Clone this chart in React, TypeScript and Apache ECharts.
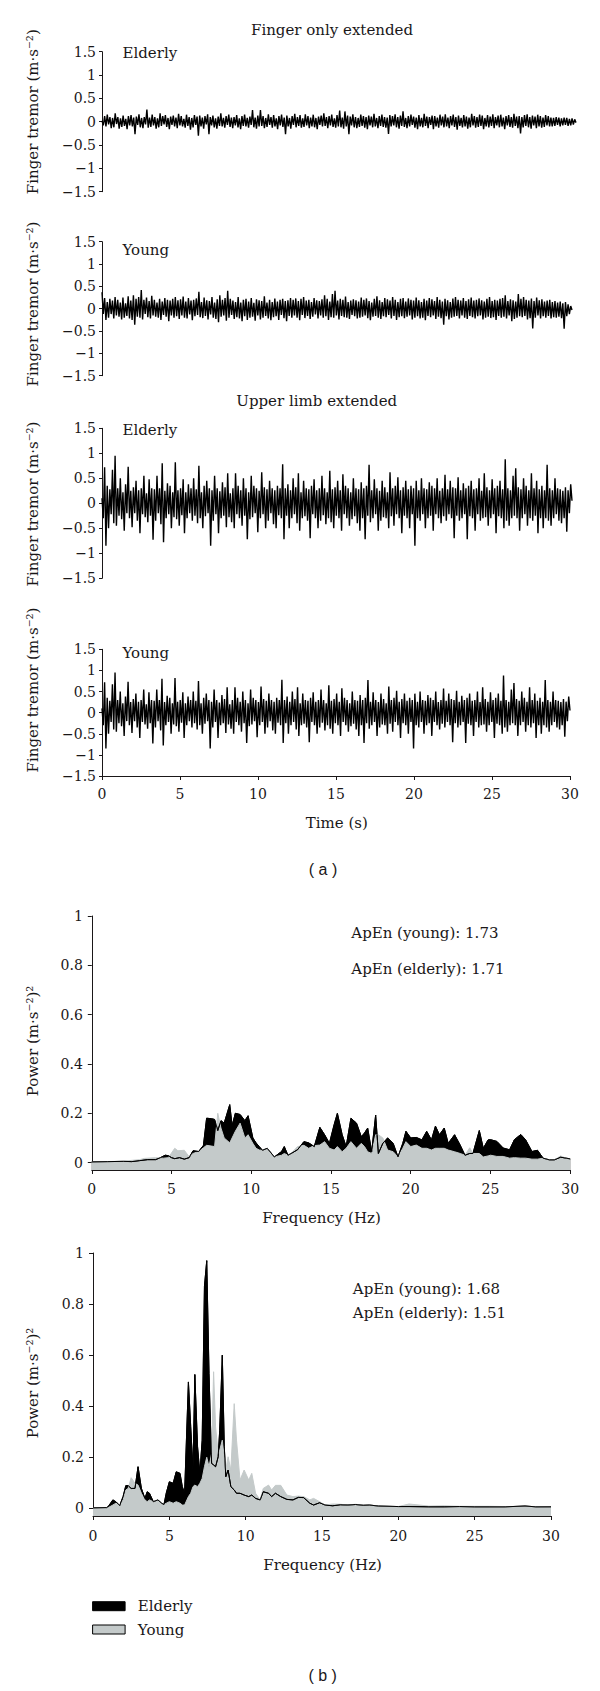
import React, { useEffect, useRef } from "react";
import * as echarts from "echarts";

// ---------- (a) tremor traces, 360 samples over 0–30 s ----------
const fingerElderly = [
  0.02, -0.08, 0.12, -0.1, 0.15, -0.06, 0.1, -0.14, 0.08, -0.12, 0.18, -0.05, 0.1, -0.15, 0.07, -0.11, 0.13, -0.09, 0.06, -0.16,
  0.12, -0.08, 0.14, -0.1, 0.09, -0.27, 0.11, -0.07, 0.16, -0.12, 0.08, -0.14, 0.1, -0.06, 0.26, -0.13, 0.09, -0.11, 0.15, -0.08,
  0.1, -0.15, 0.07, -0.12, 0.18, -0.09, 0.12, -0.06, 0.14, -0.11, 0.08, -0.16, 0.11, -0.07, 0.13, -0.1, 0.09, -0.14, 0.17, -0.08,
  0.12, -0.1, 0.06, -0.13, 0.15, -0.09, 0.1, -0.17, 0.08, -0.12, 0.14, -0.07, 0.11, -0.3, 0.13, -0.1, 0.09, -0.15, 0.12, -0.06,
  0.16, -0.27, 0.1, -0.08, 0.13, -0.12, 0.07, -0.15, 0.11, -0.09, 0.18, -0.1, 0.08, -0.13, 0.12, -0.07, 0.15, -0.11, 0.09, -0.14,
  0.1, -0.08, 0.14, -0.12, 0.07, -0.16, 0.12, -0.09, 0.15, -0.1, 0.08, -0.13, 0.11, -0.07, 0.25, -0.12, 0.09, -0.15, 0.13, -0.1,
  0.25, -0.09, 0.12, -0.14, 0.08, -0.11, 0.16, -0.07, 0.1, -0.13, 0.14, -0.1, 0.07, -0.16, 0.12, -0.08, 0.15, -0.11, 0.09, -0.27,
  0.13, -0.1, 0.08, -0.15, 0.12, -0.07, 0.17, -0.12, 0.1, -0.09, 0.14, -0.13, 0.07, -0.11, 0.16, -0.08, 0.12, -0.14, 0.09, -0.1,
  0.15, -0.12, 0.08, -0.16, 0.11, -0.07, 0.13, -0.1, 0.18, -0.09, 0.1, -0.14, 0.12, -0.08, 0.15, -0.11, 0.07, -0.13, 0.14, -0.1,
  0.24, -0.12, 0.09, -0.15, 0.22, -0.1, 0.13, -0.27, 0.11, -0.08, 0.16, -0.12, 0.1, -0.14, 0.08, -0.11, 0.15, -0.09, 0.12, -0.13,
  0.1, -0.16, 0.13, -0.08, 0.11, -0.12, 0.17, -0.1, 0.08, -0.14, 0.12, -0.09, 0.15, -0.11, 0.1, -0.13, 0.09, -0.26, 0.14, -0.1,
  0.12, -0.08, 0.16, -0.12, 0.1, -0.15, 0.13, -0.09, 0.22, -0.11, 0.08, -0.14, 0.12, -0.1, 0.15, -0.07, 0.11, -0.13, 0.09, -0.16,
  0.14, -0.1, 0.08, -0.12, 0.17, -0.09, 0.11, -0.14, 0.1, -0.07, 0.13, -0.16, 0.12, -0.1, 0.09, -0.13, 0.15, -0.08, 0.11, -0.12,
  0.16, -0.1, 0.09, -0.14, 0.12, -0.08, 0.15, -0.11, 0.1, -0.17, 0.13, -0.09, 0.08, -0.12, 0.14, -0.1, 0.11, -0.15, 0.09, -0.12,
  0.17, -0.08, 0.12, -0.13, 0.1, -0.11, 0.15, -0.09, 0.13, -0.16, 0.08, -0.1, 0.14, -0.12, 0.11, -0.09, 0.16, -0.14, 0.1, -0.08,
  0.13, -0.12, 0.15, -0.1, 0.09, -0.16, 0.12, -0.08, 0.14, -0.11, 0.1, -0.13, 0.17, -0.09, 0.11, -0.14, 0.12, -0.25, 0.1, -0.12,
  0.14, -0.09, 0.16, -0.12, 0.1, -0.15, 0.13, -0.08, 0.11, -0.14, 0.15, -0.1, 0.12, -0.13, 0.09, -0.11, 0.14, -0.08, 0.12, -0.1,
  0.09, -0.1, 0.08, -0.09, 0.1, -0.07, 0.09, -0.1, 0.07, -0.08, 0.09, -0.07, 0.08, -0.09, 0.06, -0.08, 0.07, -0.06, 0.05, -0.02,
];

const fingerYoung = [
  0.37, -0.12, 0.24, -0.25, 0.15, -0.2, 0.22, -0.12, 0.18, -0.22, 0.26, -0.15, 0.2, -0.18, 0.14, -0.24, 0.25, -0.2, 0.12, -0.16,
  0.28, -0.22, 0.18, -0.25, 0.3, -0.36, 0.22, -0.18, 0.26, -0.2, 0.42, -0.24, 0.2, -0.12, 0.25, -0.19, 0.17, -0.22, 0.29, -0.15,
  0.2, -0.18, 0.14, -0.2, 0.22, -0.25, 0.16, -0.14, 0.24, -0.18, 0.2, -0.28, 0.18, -0.15, 0.22, -0.2, 0.26, -0.17, 0.19, -0.23,
  0.21, -0.15, 0.27, -0.2, 0.16, -0.22, 0.24, -0.13, 0.18, -0.26, 0.2, -0.17, 0.23, -0.14, 0.38, -0.19, 0.15, -0.21, 0.25, -0.16,
  0.19, -0.24, 0.17, -0.13, 0.26, -0.2, 0.14, -0.23, 0.21, -0.3, 0.3, -0.18, 0.2, -0.15, 0.24, -0.27, 0.4, -0.2, 0.22, -0.14,
  0.18, -0.23, 0.15, -0.19, 0.26, -0.22, 0.14, -0.28, 0.2, -0.17, 0.22, -0.25, 0.16, -0.2, 0.24, -0.18, 0.13, -0.27, 0.21, -0.15,
  0.19, -0.24, 0.17, -0.2, 0.28, -0.16, 0.14, -0.22, 0.2, -0.26, 0.15, -0.19, 0.23, -0.17, 0.16, -0.25, 0.2, -0.14, 0.22, -0.21,
  0.17, -0.28, 0.19, -0.16, 0.24, -0.2, 0.2, -0.15, 0.23, -0.2, 0.17, -0.26, 0.22, -0.14, 0.26, -0.21, 0.18, -0.16, 0.2, -0.23,
  0.15, -0.18, 0.24, -0.13, 0.19, -0.22, 0.17, -0.15, 0.21, -0.2, 0.3, -0.17, 0.22, -0.25, 0.16, -0.19, 0.33, -0.2, 0.4, -0.15,
  0.18, -0.24, 0.22, -0.16, 0.2, -0.19, 0.27, -0.2, 0.15, -0.23, 0.18, -0.14, 0.21, -0.17, 0.19, -0.22, 0.16, -0.2, 0.25, -0.18,
  0.2, -0.15, 0.23, -0.21, 0.17, -0.26, 0.14, -0.18, 0.22, -0.16, 0.28, -0.2, 0.19, -0.23, 0.15, -0.17, 0.24, -0.19, 0.21, -0.14,
  0.18, -0.22, 0.26, -0.16, 0.2, -0.25, 0.15, -0.19, 0.22, -0.17, 0.24, -0.21, 0.16, -0.18, 0.23, -0.15, 0.2, -0.24, 0.18, -0.2,
  0.25, -0.17, 0.19, -0.22, 0.15, -0.2, 0.22, -0.26, 0.18, -0.16, 0.24, -0.19, 0.21, -0.15, 0.17, -0.23, 0.26, -0.18, 0.2, -0.21,
  0.16, -0.36, 0.22, -0.17, 0.19, -0.24, 0.15, -0.2, 0.23, -0.18, 0.26, -0.16, 0.2, -0.22, 0.18, -0.15, 0.24, -0.2, 0.17, -0.23,
  0.21, -0.16, 0.25, -0.19, 0.18, -0.22, 0.2, -0.17, 0.23, -0.15, 0.19, -0.24, 0.16, -0.2, 0.22, -0.18, 0.26, -0.21, 0.17, -0.19,
  0.2, -0.25, 0.18, -0.16, 0.22, -0.2, 0.24, -0.18, 0.3, -0.22, 0.17, -0.15, 0.21, -0.28, 0.19, -0.23, 0.16, -0.2, 0.33, -0.17,
  0.22, -0.19, 0.26, -0.16, 0.2, -0.24, 0.18, -0.21, 0.23, -0.44, 0.17, -0.2, 0.25, -0.15, 0.19, -0.22, 0.21, -0.17, 0.16, -0.2,
  0.18, -0.16, 0.2, -0.22, 0.15, -0.19, 0.17, -0.2, 0.14, -0.18, 0.16, -0.21, 0.12, -0.45, 0.15, -0.17, 0.1, -0.12, 0.06, -0.03,
];

const upperElderly = [
  0.1, -0.3, 0.72, -0.85, 0.35, -0.5, 0.28, -0.22, 0.67, -0.4, 0.95, -0.45, 0.3, -0.25, 0.5, -0.32, 0.22, -0.55, 0.38, -0.2,
  0.73, -0.3, 0.25, -0.48, 0.32, -0.2, 0.45, -0.35, 0.26, -0.6, 0.3, -0.22, 0.55, -0.28, 0.2, -0.38, 0.48, -0.25, 0.3, -0.73,
  0.28, -0.35, 0.55, -0.2, 0.3, -0.42, 0.8, -0.78, 0.25, -0.3, 0.4, -0.22, 0.35, -0.5, 0.22, -0.28, 0.82, -0.32, 0.26, -0.45,
  0.3, -0.24, 0.48, -0.6, 0.22, -0.3, 0.38, -0.2, 0.3, -0.35, 0.5, -0.25, 0.28, -0.4, 0.75, -0.3, 0.22, -0.5, 0.35, -0.26,
  0.45, -0.2, 0.3, -0.85, 0.26, -0.35, 0.55, -0.22, 0.3, -0.6, 0.24, -0.3, 0.42, -0.25, 0.32, -0.48, 0.6, -0.28, 0.2, -0.38,
  0.3, -0.5, 0.6, -0.22, 0.35, -0.3, 0.26, -0.45, 0.5, -0.25, 0.3, -0.72, 0.22, -0.32, 0.55, -0.28, 0.35, -0.2, 0.3, -0.58,
  0.25, -0.3, 0.62, -0.22, 0.32, -0.5, 0.28, -0.35, 0.45, -0.2, 0.3, -0.42, 0.26, -0.5, 0.35, -0.24, 0.3, -0.3, 0.78, -0.72,
  0.3, -0.25, 0.38, -0.5, 0.26, -0.3, 0.5, -0.22, 0.32, -0.4, 0.6, -0.55, 0.22, -0.3, 0.45, -0.26, 0.3, -0.35, 0.28, -0.7,
  0.35, -0.22, 0.48, -0.3, 0.26, -0.5, 0.3, -0.35, 0.55, -0.24, 0.3, -0.42, 0.22, -0.3, 0.65, -0.38, 0.28, -0.5, 0.32, -0.25,
  0.45, -0.3, 0.26, -0.55, 0.58, -0.22, 0.35, -0.3, 0.3, -0.45, 0.22, -0.32, 0.5, -0.26, 0.3, -0.4, 0.28, -0.55, 0.42, -0.3,
  0.3, -0.72, 0.35, -0.25, 0.77, -0.38, 0.26, -0.3, 0.48, -0.22, 0.3, -0.55, 0.25, -0.35, 0.45, -0.28, 0.32, -0.3, 0.22, -0.5,
  0.62, -0.26, 0.3, -0.45, 0.35, -0.22, 0.52, -0.3, 0.26, -0.6, 0.32, -0.25, 0.45, -0.3, 0.28, -0.5, 0.35, -0.22, 0.3, -0.85,
  0.45, -0.3, 0.26, -0.35, 0.5, -0.22, 0.3, -0.5, 0.28, -0.3, 0.42, -0.25, 0.35, -0.55, 0.3, -0.22, 0.5, -0.3, 0.25, -0.4,
  0.3, -0.26, 0.57, -0.35, 0.28, -0.22, 0.45, -0.3, 0.32, -0.7, 0.3, -0.25, 0.52, -0.35, 0.26, -0.3, 0.4, -0.22, 0.3, -0.72,
  0.35, -0.26, 0.45, -0.3, 0.28, -0.55, 0.3, -0.22, 0.5, -0.35, 0.25, -0.3, 0.6, -0.28, 0.32, -0.45, 0.26, -0.3, 0.48, -0.22,
  0.3, -0.6, 0.35, -0.26, 0.45, -0.3, 0.28, -0.5, 0.88, -0.35, 0.3, -0.45, 0.26, -0.3, 0.55, -0.25, 0.7, -0.3, 0.32, -0.55,
  0.28, -0.3, 0.5, -0.22, 0.35, -0.45, 0.26, -0.3, 0.6, -0.35, 0.3, -0.25, 0.45, -0.6, 0.28, -0.3, 0.35, -0.5, 0.26, -0.3,
  0.77, -0.35, 0.3, -0.45, 0.26, -0.3, 0.5, -0.22, 0.3, -0.35, 0.28, -0.4, 0.25, -0.3, 0.32, -0.57, 0.26, -0.2, 0.38, 0.05,
];

// the reference prints the very same trace for the "Young" upper-limb panel
const upperYoung = upperElderly.slice();

// ---------- (b) power spectra, [frequency Hz, power] ----------
const specTopElderly = [
  [0, 0.003], [1, 0.004], [2, 0.005], [2.5, 0.004], [3, 0.008], [3.5, 0.012], [4, 0.012], [4.3, 0.02], [4.6, 0.03], [4.8, 0.028],
  [5, 0.02], [5.2, 0.016], [5.5, 0.02], [5.8, 0.014], [6.1, 0.02], [6.35, 0.048], [6.7, 0.045], [7, 0.07], [7.2, 0.18], [7.5, 0.178],
  [7.7, 0.175], [7.9, 0.13], [8.1, 0.17], [8.3, 0.16], [8.65, 0.235], [8.8, 0.15], [9.0, 0.2], [9.3, 0.195], [9.6, 0.17], [9.8, 0.19],
  [10.1, 0.1], [10.3, 0.08], [10.5, 0.065], [10.7, 0.05], [11.0, 0.058], [11.45, 0.023], [11.9, 0.045], [12.07, 0.065], [12.3, 0.03], [12.5, 0.037],
  [12.9, 0.052], [13.3, 0.085], [13.6, 0.08], [13.95, 0.065], [14.3, 0.143], [14.6, 0.113], [14.9, 0.078], [15.2, 0.155], [15.4, 0.2], [15.7, 0.113],
  [15.95, 0.065], [16.25, 0.18], [16.6, 0.16], [16.9, 0.105], [17.1, 0.12], [17.3, 0.14], [17.55, 0.044], [17.8, 0.193], [17.97, 0.037], [18.25, 0.078],
  [18.55, 0.1], [18.9, 0.078], [19.2, 0.023], [19.5, 0.078], [19.7, 0.127], [20.0, 0.1], [20.35, 0.102], [20.7, 0.092], [21.0, 0.127], [21.3, 0.092],
  [21.55, 0.148], [21.8, 0.113], [22.1, 0.14], [22.35, 0.078], [22.75, 0.113], [23.1, 0.071], [23.4, 0.03], [23.7, 0.037], [23.9, 0.037], [24.3, 0.13],
  [24.55, 0.058], [24.85, 0.092], [25.0, 0.093], [25.4, 0.086], [25.8, 0.059], [26.2, 0.052], [26.5, 0.093], [26.9, 0.114], [27.2, 0.093], [27.6, 0.045],
  [27.95, 0.05], [28.3, 0.018], [28.7, 0.011], [29.0, 0.011], [29.4, 0.022], [29.75, 0.018], [30, 0.015],
];

const specTopYoung = [
  [0, 0.003], [1, 0.004], [2, 0.006], [3, 0.012], [3.3, 0.017], [4, 0.02], [4.5, 0.018], [4.8, 0.02], [5.2, 0.058], [5.4, 0.048],
  [5.8, 0.05], [6.1, 0.024], [6.35, 0.037], [6.7, 0.045], [7.0, 0.06], [7.2, 0.07], [7.7, 0.065], [7.9, 0.2], [8.1, 0.14], [8.3, 0.1],
  [8.65, 0.08], [9.0, 0.127], [9.3, 0.16], [9.6, 0.1], [9.8, 0.113], [10.1, 0.078], [10.3, 0.058], [10.5, 0.051], [10.7, 0.05], [11.0, 0.058],
  [11.45, 0.023], [11.9, 0.03], [12.07, 0.037], [12.3, 0.03], [12.5, 0.037], [12.9, 0.065], [13.3, 0.07], [13.6, 0.058], [13.95, 0.069], [14.3, 0.071],
  [14.6, 0.085], [14.9, 0.058], [15.2, 0.051], [15.4, 0.065], [15.7, 0.044], [15.95, 0.058], [16.25, 0.085], [16.6, 0.058], [16.9, 0.078], [17.1, 0.065],
  [17.3, 0.044], [17.55, 0.037], [17.8, 0.113], [17.97, 0.113], [18.25, 0.1], [18.55, 0.051], [18.9, 0.044], [19.2, 0.023], [19.5, 0.058], [19.7, 0.085],
  [20.0, 0.065], [20.35, 0.071], [20.7, 0.058], [21.0, 0.058], [21.3, 0.051], [21.55, 0.058], [21.8, 0.058], [22.1, 0.058], [22.35, 0.051], [22.75, 0.044],
  [23.1, 0.037], [23.4, 0.03], [23.7, 0.06], [23.9, 0.037], [24.3, 0.037], [24.55, 0.023], [24.85, 0.027], [25.0, 0.03], [25.4, 0.025], [25.8, 0.025],
  [26.2, 0.018], [26.5, 0.02], [26.9, 0.018], [27.2, 0.018], [27.6, 0.014], [27.95, 0.014], [28.3, 0.018], [28.7, 0.011], [29.0, 0.011], [29.4, 0.027],
  [29.75, 0.018], [30, 0.015],
];

const specBottomElderly = [
  [0, 0.002], [0.9, 0.003], [1.0, 0.007], [1.3, 0.033], [1.5, 0.026], [1.75, 0.011], [1.97, 0.046], [2.15, 0.089], [2.3, 0.089], [2.5, 0.078],
  [2.75, 0.078], [2.95, 0.163], [3.17, 0.078], [3.4, 0.039], [3.55, 0.065], [3.7, 0.059], [3.95, 0.026], [4.25, 0.033], [4.5, 0.02], [4.65, 0.015],
  [4.8, 0.06], [5.0, 0.104], [5.25, 0.098], [5.45, 0.143], [5.7, 0.137], [5.85, 0.085], [6.0, 0.059], [6.25, 0.495], [6.4, 0.32], [6.55, 0.15],
  [6.67, 0.524], [6.85, 0.241], [7.0, 0.137], [7.15, 0.267], [7.3, 0.87], [7.45, 0.97], [7.6, 0.527], [7.77, 0.176], [7.9, 0.17], [8.03, 0.163],
  [8.2, 0.202], [8.3, 0.306], [8.47, 0.6], [8.6, 0.241], [8.7, 0.124], [8.85, 0.15], [9.03, 0.085], [9.25, 0.072], [9.4, 0.059], [9.63, 0.059],
  [9.9, 0.052], [10.2, 0.046], [10.4, 0.052], [10.65, 0.039], [10.95, 0.033], [11.15, 0.065], [11.5, 0.059], [11.7, 0.046], [11.95, 0.059], [12.3, 0.046],
  [12.7, 0.035], [13.1, 0.033], [13.45, 0.043], [13.8, 0.042], [14.2, 0.02], [14.45, 0.013], [14.85, 0.022], [15.2, 0.013], [15.7, 0.01], [16.2, 0.014],
  [16.7, 0.013], [17.2, 0.015], [17.7, 0.012], [18.1, 0.013], [18.7, 0.009], [20, 0.007], [20.7, 0.007], [22, 0.006], [23, 0.006], [24, 0.007],
  [25, 0.006], [26, 0.006], [27, 0.006], [28.3, 0.009], [29, 0.006], [30, 0.006],
];

const specBottomYoung = [
  [0, 0.002], [0.9, 0.003], [1.0, 0.003], [1.3, 0.013], [1.5, 0.02], [1.75, 0.013], [1.97, 0.033], [2.15, 0.072], [2.3, 0.078], [2.5, 0.12],
  [2.75, 0.098], [2.95, 0.091], [3.17, 0.059], [3.4, 0.033], [3.55, 0.026], [3.7, 0.033], [3.95, 0.026], [4.25, 0.033], [4.5, 0.02], [4.65, 0.015],
  [4.8, 0.02], [5.0, 0.026], [5.25, 0.02], [5.45, 0.026], [5.7, 0.02], [5.85, 0.013], [6.0, 0.013], [6.25, 0.046], [6.4, 0.059], [6.55, 0.085],
  [6.67, 0.091], [6.85, 0.085], [7.0, 0.098], [7.15, 0.117], [7.3, 0.163], [7.45, 0.2], [7.6, 0.163], [7.77, 0.215], [7.9, 0.535], [8.03, 0.319],
  [8.2, 0.215], [8.3, 0.228], [8.47, 0.267], [8.6, 0.202], [8.7, 0.15], [8.85, 0.202], [9.03, 0.15], [9.25, 0.41], [9.4, 0.267], [9.63, 0.111],
  [9.9, 0.15], [10.2, 0.111], [10.4, 0.137], [10.65, 0.059], [10.95, 0.033], [11.15, 0.078], [11.5, 0.091], [11.7, 0.072], [11.95, 0.09], [12.3, 0.09],
  [12.7, 0.052], [13.1, 0.046], [13.45, 0.048], [13.8, 0.046], [14.2, 0.033], [14.45, 0.039], [14.85, 0.026], [15.2, 0.013], [15.7, 0.017], [16.2, 0.016],
  [16.7, 0.013], [17.2, 0.016], [17.7, 0.012], [18.1, 0.013], [18.7, 0.009], [20, 0.007], [20.7, 0.017], [22, 0.009], [23, 0.01], [24, 0.008],
  [25, 0.008], [26, 0.008], [27, 0.007], [28.3, 0.006], [29, 0.007], [30, 0.006],
];

const powerTicks = [0, 0.2, 0.4, 0.6, 0.8, 1];
const panelGroups = ["Elderly", "Young", "Elderly", "Young"];
const legendNames = ["Elderly", "Young"];
const apenTop = ["ApEn (young): 1.73", "ApEn (elderly): 1.71"];
const apenBottom = ["ApEn (young): 1.68", "ApEn (elderly): 1.51"];

const SERIF = "'DejaVu Serif', 'Liberation Serif', serif";
const SANS = "'Liberation Sans', Arial, sans-serif";
const INK = "#1a1718";
const GRAY = "#c4caca";

const toTime = (values: number[]) => {
  const n = values.length;
  return values.map((v, i) => [(i * 30) / (n - 1), v]);
};
const minusFmt = (v: number) => (v === 0 ? "0" : (v < 0 ? "\u2212" : "") + String(Math.abs(v)));

export default function App() {
  const ref = useRef<HTMLDivElement>(null);

  useEffect(() => {
    document.body.style.margin = "0";
    if (!ref.current) return;
    const chart = echarts.init(ref.current, undefined, { renderer: "svg" });

    const timeGrids = [
      { left: 102, top: 51.7, width: 474, height: 140 },
      { left: 102, top: 241.7, width: 470, height: 134 },
      { left: 102, top: 428.3, width: 470, height: 150 },
      { left: 102, top: 649.3, width: 468, height: 126.7 },
    ];
    const specGrids = [
      { left: 91.8, top: 916, width: 478.4, height: 254 },
      { left: 93, top: 1253, width: 458, height: 263 },
    ];
    const axisLine = { show: true, onZero: false, lineStyle: { color: INK, width: 1 } };
    const labelStyle = { fontFamily: SERIF, fontSize: 14, color: INK };

    const xAxis: any[] = [];
    const yAxis: any[] = [];
    timeGrids.forEach((_, i) => {
      xAxis.push({
        type: "value", gridIndex: i, min: 0, max: 30, interval: 5, show: i === 3,
        axisLine, axisTick: { show: true, length: 4, lineStyle: { color: INK } },
        axisLabel: { ...labelStyle, margin: 11 }, splitLine: { show: false },
      });
      yAxis.push({
        type: "value", gridIndex: i, min: -1.5, max: 1.5, interval: 0.5,
        axisLine, axisTick: { show: true, length: 3, lineStyle: { color: INK } },
        axisLabel: { ...labelStyle, margin: 6, formatter: minusFmt }, splitLine: { show: false },
      });
    });
    specGrids.forEach((_, s) => {
      xAxis.push({
        type: "value", gridIndex: 4 + s, min: 0, max: 30, interval: 5,
        axisLine, axisTick: { show: true, length: 4, lineStyle: { color: INK } },
        axisLabel: { ...labelStyle, margin: s === 0 ? 12 : 13 }, splitLine: { show: false },
      });
      yAxis.push({
        type: "value", gridIndex: 4 + s, min: -0.03, max: 1,
        axisLine,
        axisTick: { show: true, length: 4, customValues: powerTicks, lineStyle: { color: INK } },
        axisLabel: { ...labelStyle, margin: 9, customValues: powerTicks, formatter: (v: number) => String(v) },
        splitLine: { show: false },
      });
    });

    const traces = [fingerElderly, fingerYoung, upperElderly, upperYoung];
    const series: any[] = traces.map((arr, i) => ({
      type: "line", name: panelGroups[i] + " trace " + (i + 1), xAxisIndex: i, yAxisIndex: i,
      data: toTime(arr), symbol: "none", showSymbol: false, silent: true,
      lineStyle: { color: "#000", width: 1.4 },
    }));
    const spectra = [
      [specTopElderly, specTopYoung],
      [specBottomElderly, specBottomYoung],
    ];
    spectra.forEach(([eld, yng], s) => {
      const idx = 4 + s;
      series.push({
        type: "line", name: "Elderly", xAxisIndex: idx, yAxisIndex: idx, data: eld,
        symbol: "none", silent: true, lineStyle: { color: "#000", width: 1 },
        areaStyle: { color: "#000", opacity: 1, origin: "start" },
      });
      series.push({
        type: "line", name: "Young", xAxisIndex: idx, yAxisIndex: idx, data: yng,
        symbol: "none", silent: true, lineStyle: { color: GRAY, width: 1 },
        areaStyle: { color: GRAY, opacity: 1, origin: "start" },
      });
      series.push({
        type: "line", name: "Elderly outline", xAxisIndex: idx, yAxisIndex: idx, data: eld,
        symbol: "none", silent: true, lineStyle: { color: "#000", width: 1 },
      });
    });

    const txt = (text: string, x: number, y: number, align = "center", extra: any = {}) => ({
      type: "text", x, y, silent: true, ...extra,
      style: {
        text, fill: INK, fontFamily: extra.fontFamily || SERIF, fontSize: extra.fontSize || 15,
        textAlign: align, textVerticalAlign: "middle",
      },
    });
    const rot = { rotation: Math.PI / 2 };
    const yLabelY = [111.7, 304, 504, 690];
    const groupLabelY = [53, 250, 430, 653];

    const elements: any[] = [
      txt("Finger only extended", 332, 30),
      txt("Upper limb extended", 316.7, 401),
      txt("Time (s)", 336.8, 823),
      txt("( a )", 323, 869, "center", { fontFamily: SANS, fontSize: 16 }),
      txt("Frequency (Hz)", 321.5, 1218),
      txt("Frequency (Hz)", 322.6, 1565),
      txt("( b )", 322.6, 1675, "center", { fontFamily: SANS, fontSize: 16 }),
      txt(apenTop[0], 351.3, 933, "left"),
      txt(apenTop[1], 351.3, 969, "left"),
      txt(apenBottom[0], 352.8, 1289, "left"),
      txt(apenBottom[1], 352.8, 1313, "left"),
      txt("Power (m\u00b7s\u207b\u00b2)\u00b2", 32.5, 1041, "center", rot),
      txt("Power (m\u00b7s\u207b\u00b2)\u00b2", 32.5, 1383, "center", rot),
      {
        type: "rect", shape: { x: 92.6, y: 1601.7, width: 32.5, height: 9 },
        style: { fill: "#000", stroke: "#000", lineWidth: 1 }, silent: true,
      },
      {
        type: "rect", shape: { x: 92.6, y: 1625, width: 32.5, height: 9 },
        style: { fill: GRAY, stroke: "#000", lineWidth: 1 }, silent: true,
      },
      txt(legendNames[0], 137.8, 1606.2, "left"),
      txt(legendNames[1], 137.8, 1629.5, "left"),
    ];
    yLabelY.forEach((y) => elements.push(txt("Finger tremor (m\u00b7s\u207b\u00b2)", 32.5, y, "center", rot)));
    groupLabelY.forEach((y, i) => elements.push(txt(panelGroups[i], 122.5, y, "left")));

    chart.setOption({
      animation: false,
      backgroundColor: "#ffffff",
      grid: [...timeGrids, ...specGrids].map((g) => ({ ...g, containLabel: false })),
      xAxis,
      yAxis,
      series,
      graphic: { elements },
    });

    return () => chart.dispose();
  }, []);

  return <div ref={ref} style={{ width: 600, height: 1691 }} />;
}
